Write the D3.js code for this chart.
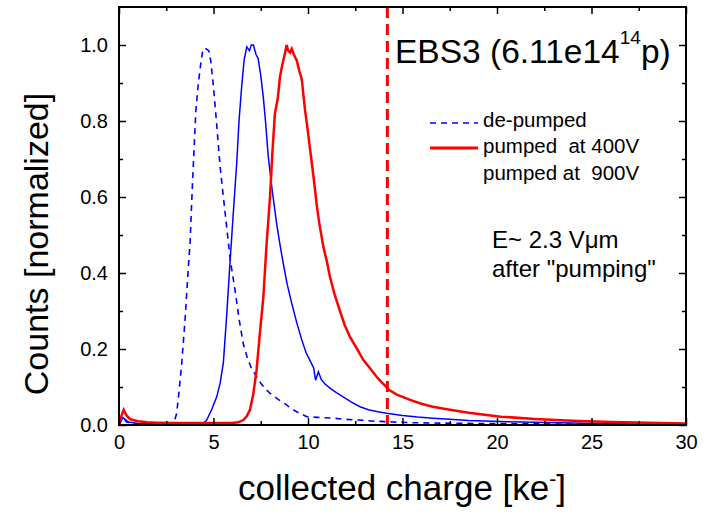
<!DOCTYPE html>
<html><head><meta charset="utf-8">
<script src="https://cdn.jsdelivr.net/npm/d3@7"></script>
<style>
body{margin:0;background:#fff}
text{font-family:"Liberation Sans",Arial,sans-serif;fill:#000}
</style>
</head><body>
<svg id="chart" width="708" height="514"></svg>
<script>
// ---- data ----
const dePumped = [[0,0],[0.2,0.02],[0.4,0.008],[0.8,0.003],[1.5,0.002],[2.5,0.002],[2.9,0.005],[3.05,0.03],[3.2,0.10],[3.32,0.163],[3.5,0.28],[3.65,0.40],[3.76,0.48],[3.9,0.65],[4.07,0.83],[4.2,0.90],[4.35,0.96],[4.45,0.99],[4.6,0.99],[4.75,0.985],[4.85,0.96],[5.0,0.89],[5.17,0.79],[5.35,0.68],[5.5,0.61],[5.7,0.52],[5.9,0.43],[6.14,0.355],[6.35,0.28],[6.57,0.215],[6.8,0.175],[7.0,0.15],[7.28,0.127],[7.5,0.11],[7.81,0.092],[8.0,0.083],[8.4,0.068],[8.87,0.053],[9.05,0.045],[9.4,0.035],[9.93,0.022],[10.5,0.02],[11.3,0.018],[12,0.015],[12.7,0.013],[13.5,0.01],[14.5,0.008],[15.5,0.006],[17,0.005],[19,0.004],[22,0.003],[26,0.002],[30,0.001]];
const pumped900 = [[0,0],[0.2,0.02],[0.5,0.008],[1,0.004],[2,0.003],[3,0.003],[4,0.004],[4.5,0.006],[4.64,0.013],[4.9,0.04],[5.17,0.074],[5.35,0.11],[5.52,0.163],[5.7,0.29],[5.87,0.425],[6.05,0.56],[6.23,0.69],[6.35,0.80],[6.49,0.89],[6.62,0.96],[6.76,0.995],[6.9,0.985],[7.0,1.0],[7.11,1.0],[7.25,0.975],[7.36,0.965],[7.5,0.92],[7.64,0.86],[7.75,0.80],[7.9,0.706],[8.1,0.62],[8.34,0.53],[8.5,0.48],[8.69,0.425],[8.9,0.37],[9.14,0.32],[9.4,0.27],[9.67,0.224],[9.9,0.19],[10.1,0.17],[10.3,0.15],[10.4,0.118],[10.55,0.14],[10.7,0.12],[10.9,0.108],[11.16,0.097],[11.5,0.085],[11.86,0.074],[12.3,0.06],[12.75,0.048],[13.2,0.04],[13.7,0.035],[14.16,0.031],[15,0.025],[15.8,0.021],[16.6,0.018],[17.5,0.015],[18.5,0.012],[20.2,0.009],[22,0.007],[24,0.005],[26,0.003],[28,0.002],[30,0.001]];
const pumped400 = [[0,0],[0.1,0.02],[0.25,0.04],[0.4,0.025],[0.6,0.015],[1,0.01],[1.5,0.007],[2,0.006],[3,0.005],[4,0.005],[5,0.005],[6,0.005],[6.3,0.007],[6.58,0.013],[6.75,0.022],[6.93,0.04],[7.1,0.08],[7.28,0.145],[7.45,0.24],[7.64,0.338],[7.8,0.47],[7.99,0.60],[8.12,0.72],[8.25,0.82],[8.4,0.86],[8.52,0.917],[8.65,0.95],[8.78,0.978],[8.87,1.0],[8.95,0.985],[9.05,0.98],[9.14,0.99],[9.25,0.975],[9.4,0.96],[9.55,0.93],[9.67,0.91],[9.84,0.83],[9.95,0.79],[10.1,0.73],[10.3,0.65],[10.46,0.58],[10.6,0.53],[10.81,0.47],[11.0,0.43],[11.16,0.39],[11.4,0.345],[11.69,0.30],[11.95,0.262],[12.22,0.232],[12.6,0.2],[12.93,0.171],[13.3,0.148],[13.63,0.127],[13.9,0.112],[14.05,0.105],[14.16,0.10],[14.3,0.092],[14.7,0.08],[15.4,0.066],[16.0,0.056],[16.6,0.048],[17.5,0.04],[18.5,0.032],[20.2,0.022],[22,0.016],[24,0.011],[26,0.008],[28,0.006],[30,0.004]];
const markerX = 14.2;
const xMajor = [0,5,10,15,20,25,30];
const xMinor = [2.5,7.5,12.5,17.5,22.5,27.5];
const yMajor = [0,0.2,0.4,0.6,0.8,1.0];
const yMinor = [0.1,0.3,0.5,0.7,0.9];
const legendLabels = ["de-pumped","pumped  at 400V","pumped at  900V"];

// ---- layout ----
const svg = d3.select("#chart");
const L = 119, R = 686, T = 7, B = 425;
const x = d3.scaleLinear().domain([0,30]).range([L,R]);
const y = d3.scaleLinear().domain([0,1.1]).range([B,T]);
const BLUE = "#0000ff", RED = "#ff0000";

const line = d3.line().x(d=>x(d[0])).y(d=>y(d[1]));
const plot = svg.append("g");
plot.append("path").datum(dePumped).attr("d",line).attr("fill","none")
  .attr("stroke",BLUE).attr("stroke-width",1.6).attr("stroke-dasharray","6,5");
plot.append("path").datum(pumped900).attr("d",line).attr("fill","none")
  .attr("stroke",BLUE).attr("stroke-width",1.5);
plot.append("path").datum(pumped400).attr("d",line).attr("fill","none")
  .attr("stroke",RED).attr("stroke-width",2.5);
plot.append("line").attr("x1",x(markerX)).attr("x2",x(markerX)).attr("y1",T).attr("y2",B)
  .attr("stroke",RED).attr("stroke-width",3).attr("stroke-dasharray","11,6");

// ---- axes (ticks inward) ----
function styleAxis(g){ g.selectAll("path").remove(); g.selectAll("line").attr("stroke","#000").attr("stroke-width",1.5); }
const fmtY = d3.format(".1f");
svg.append("g").attr("transform",`translate(0,${B})`)
  .call(d3.axisBottom(x).tickValues(xMajor).tickSize(-7).tickPadding(10).tickFormat(d3.format("d")))
  .call(styleAxis).call(g=>g.selectAll("text").attr("font-size",20).attr("font-family","Liberation Sans, Arial"));
svg.append("g").attr("transform",`translate(0,${B})`)
  .call(d3.axisBottom(x).tickValues(xMinor).tickSize(-4).tickFormat("")).call(styleAxis);
svg.append("g").attr("transform",`translate(0,${T})`)
  .call(d3.axisTop(x).tickValues(xMajor).tickSize(-7).tickFormat("")).call(styleAxis);
svg.append("g").attr("transform",`translate(0,${T})`)
  .call(d3.axisTop(x).tickValues(xMinor).tickSize(-4).tickFormat("")).call(styleAxis);
svg.append("g").attr("transform",`translate(${L},0)`)
  .call(d3.axisLeft(y).tickValues(yMajor).tickSize(-7).tickPadding(11).tickFormat(fmtY))
  .call(styleAxis).call(g=>g.selectAll("text").attr("font-size",20).attr("font-family","Liberation Sans, Arial"));
svg.append("g").attr("transform",`translate(${L},0)`)
  .call(d3.axisLeft(y).tickValues(yMinor).tickSize(-4).tickFormat("")).call(styleAxis);
svg.append("g").attr("transform",`translate(${R},0)`)
  .call(d3.axisRight(y).tickValues(yMajor).tickSize(-7).tickFormat("")).call(styleAxis);
svg.append("g").attr("transform",`translate(${R},0)`)
  .call(d3.axisRight(y).tickValues(yMinor).tickSize(-4).tickFormat("")).call(styleAxis);
svg.append("rect").attr("x",L).attr("y",T).attr("width",R-L).attr("height",B-T)
  .attr("fill","none").attr("stroke","#000").attr("stroke-width",2);

// ---- title ----
const title = svg.append("text").attr("x",395).attr("y",63).attr("font-size",33.5);
title.append("tspan").text("EBS3 (6.11e14");
title.append("tspan").attr("font-size",19).attr("dy",-19).text("14");
title.append("tspan").attr("dy",19).text("p)");

// ---- legend ----
svg.append("line").attr("x1",430).attr("x2",478).attr("y1",123).attr("y2",123)
  .attr("stroke",BLUE).attr("stroke-width",1.6).attr("stroke-dasharray","6,5");
svg.append("line").attr("x1",430).attr("x2",478).attr("y1",148).attr("y2",148)
  .attr("stroke",RED).attr("stroke-width",3);
[127,153,180].forEach((yy,i)=>{
  svg.append("text").attr("x",483).attr("y",yy).attr("font-size",20.5)
    .style("white-space","pre").attr("xml:space","preserve").text(legendLabels[i]);
});
svg.append("text").attr("x",492).attr("y",248).attr("font-size",24).text("E~ 2.3 V\u03bcm");
svg.append("text").attr("x",492).attr("y",277).attr("font-size",24).text("after \"pumping\"");

// ---- axis titles ----
const xl = svg.append("text").attr("x",402).attr("y",500).attr("text-anchor","middle").attr("font-size",35);
xl.append("tspan").text("collected charge [ke");
xl.append("tspan").attr("font-size",21).attr("dy",-14).text("-");
xl.append("tspan").attr("dy",14).text("]");
svg.append("text").attr("transform","translate(48,244) rotate(-90)").attr("text-anchor","middle")
  .attr("font-size",34).text("Counts [normalized]");
</script>
</body></html>
